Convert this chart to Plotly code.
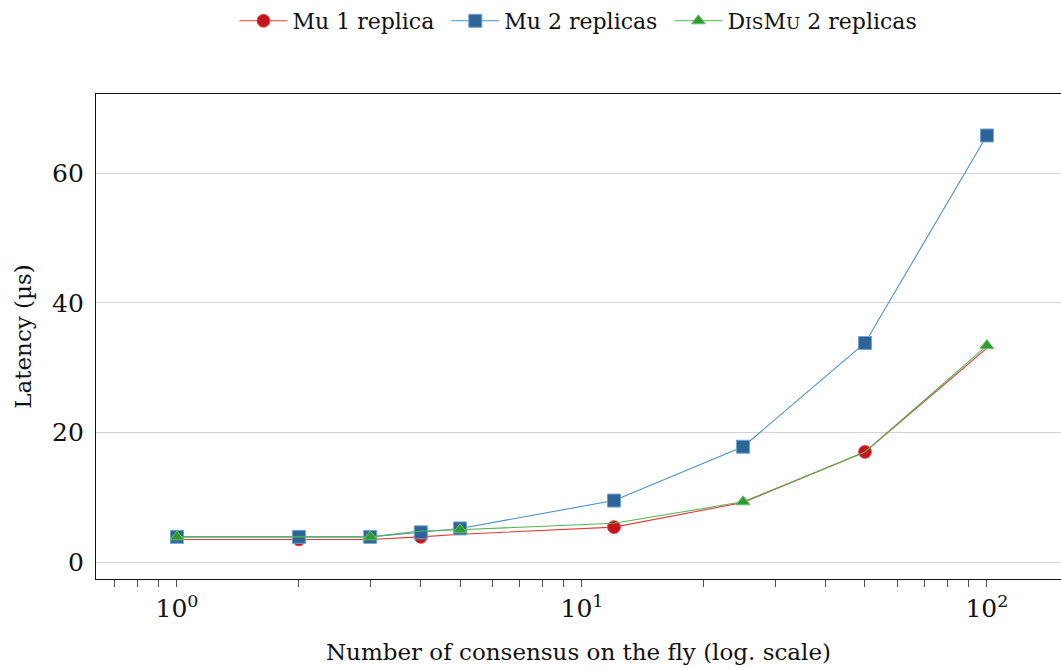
import plotly.graph_objects as go

x_vals = [1, 2, 3, 4, 5, 12, 25, 50, 100]
mu1 = [3.5, 3.5, 3.5, 3.9, 4.3, 5.4, 9.2, 17.0, 33.0]
mu2 = [3.9, 3.9, 3.9, 4.6, 5.2, 9.5, 17.8, 33.8, 65.8]
dismu = [3.9, 3.9, 3.9, 4.8, 5.0, 6.0, 9.3, 17.0, 33.4]

FONT = "DejaVu Serif"
SC = 17  # small-caps size
names = ["Mu 1 replica\u00a0", "Mu 2 replicas\u00a0",
         f"D<span style='font-size:{SC}px'>IS</span>M<span style='font-size:{SC}px'>U</span> 2 replicas"]

n = len(x_vals)

def marked(phase):
    # pgfplots-like "mark repeat=2"
    if phase is None:
        return None
    return [i for i in range(n) if i % 2 == phase]

specs = [
    (mu1, names[0], "#e8383c", "#c5141b", "#e05a5e", "circle", 13, marked(1)),
    (mu2, names[1], "#4d8fc7", "#2d6497", "#6fa3d4", "square", 13, marked(None)),
    (dismu, names[2], "#55b455", "#2f9a2f", "#66c266", "triangle-up", 12, marked(0)),
]

fig = go.Figure()
for ys, name, lc, mc, mlc, sym, sz, sel in specs:
    fig.add_trace(go.Scatter(
        x=x_vals, y=ys, name=name, mode="lines+markers",
        line=dict(color=lc, width=1.1),
        marker=dict(symbol=sym, size=sz, color=mc, opacity=1,
                    line=dict(color=mlc, width=1)),
        selectedpoints=sel,
        selected=dict(marker=dict(opacity=1)),
        unselected=dict(marker=dict(opacity=0)),
    ))

fig.update_layout(
    width=1061, height=668,
    paper_bgcolor="white", plot_bgcolor="white",
    margin=dict(l=96, r=0, t=94, b=89),
    font=dict(family=FONT, size=22, color="#111"),
    showlegend=True,
    legend=dict(orientation="h", x=0.5, xanchor="center", xref="paper",
                y=1.0, yref="container", yanchor="top",
                font=dict(family=FONT, size=22), itemwidth=48,
                bgcolor="rgba(0,0,0,0)"),
)
fig.update_xaxes(
    type="log", range=[-0.2, 2.183],
    tickvals=[1, 10, 100],
    ticktext=["10<sup>0</sup>", "10<sup>1</sup>", "10<sup>2</sup>"],
    ticks="outside", ticklen=7, tickcolor="#555", tickwidth=1,
    minor=dict(ticks="outside", ticklen=7, tickcolor="#555", dtick="D1", showgrid=False),
    showline=True, linecolor="#111", linewidth=1.2, mirror=True,
    showgrid=False, zeroline=False,
    title=dict(text="Number of consensus on the fly (log. scale)", standoff=21,
               font=dict(family=FONT, size=23)),
    tickfont=dict(family=FONT, size=25),
)
fig.update_yaxes(
    range=[-2.6, 72.2], tickvals=[0, 20, 40, 60],
    showline=True, linecolor="#111", linewidth=1.2,
    showgrid=True, gridcolor="#d3d3d3", gridwidth=1.2, zeroline=False,
    ticks="", ticklabelstandoff=6,
    title=dict(text="Latency (µs)", standoff=14, font=dict(family=FONT, size=23)),
    tickfont=dict(family=FONT, size=25),
)

# remove the default 8px page margin so the 1061x668 figure fills the window exactly
fig.write_html("out.html", config={"displayModeBar": False},
               post_script="document.body.style.margin='0';document.body.style.overflow='hidden';")
